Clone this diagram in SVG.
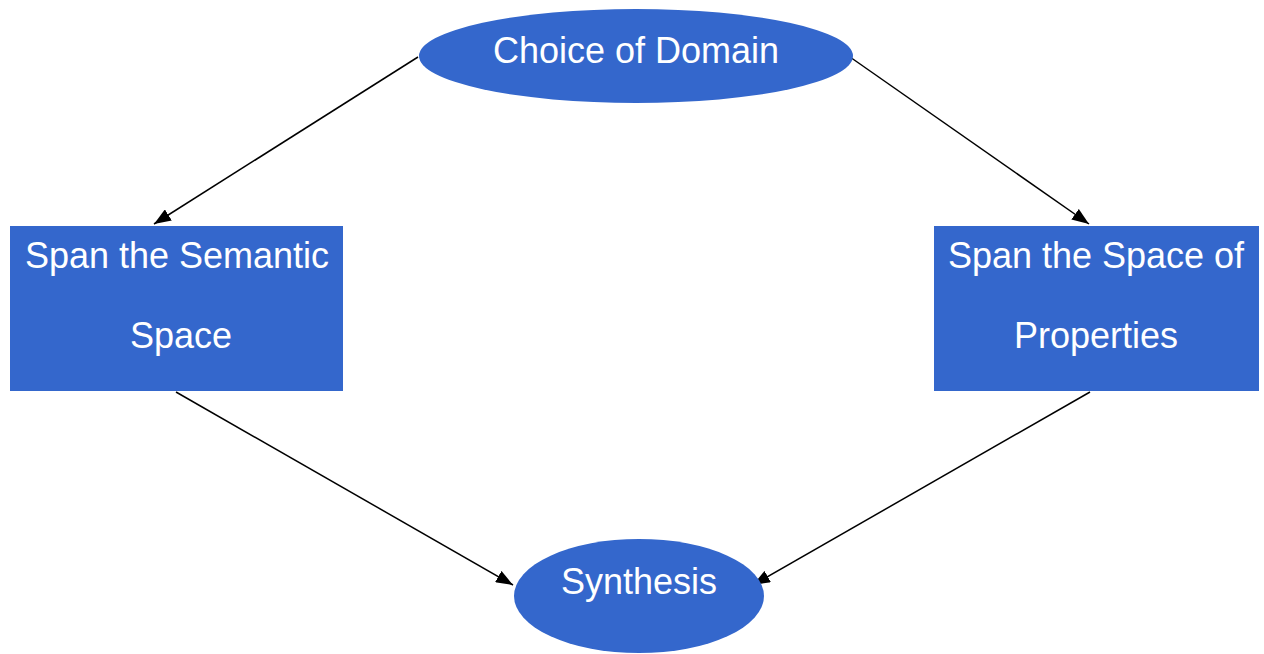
<svg xmlns="http://www.w3.org/2000/svg" width="1264" height="654" viewBox="0 0 1264 654">
<style>
.n{fill:#3467CC;}
.t{fill:#ffffff;font-family:"Liberation Sans",Arial,sans-serif;font-size:36px;text-anchor:middle;}
.c{stroke:#000;stroke-width:1.5;fill:none;marker-end:url(#ah);}
</style>
<defs>
<marker id="ah" viewBox="0 0 10 10" refX="10" refY="5" markerWidth="17" markerHeight="13" markerUnits="userSpaceOnUse" orient="auto" preserveAspectRatio="none">
<path d="M0,0 L10,5 L0,10 z" fill="#000"/>
</marker>
</defs>
<rect width="1264" height="654" fill="#fff"/>
<g id="connectors">
<line class="c" x1="418" y1="57" x2="154" y2="224"/>
<line class="c" x1="850" y1="57" x2="1089" y2="224"/>
<line class="c" x1="176" y1="392" x2="513" y2="585"/>
<line class="c" x1="1090" y1="392" x2="753" y2="585"/>
</g>
<g id="choice">
<ellipse class="n" cx="636" cy="56" rx="217" ry="47"/>
<text class="t" x="636" y="63">Choice of Domain</text>
</g>
<g id="semantic">
<rect class="n" x="10" y="226" width="333" height="165"/>
<text class="t" x="177" y="268">Span the Semantic</text>
<text class="t" x="181" y="348">Space</text>
</g>
<g id="properties">
<rect class="n" x="934" y="226" width="325" height="165"/>
<text class="t" x="1096" y="268">Span the Space of</text>
<text class="t" x="1096" y="348">Properties</text>
</g>
<g id="synthesis">
<ellipse class="n" cx="639" cy="596" rx="125" ry="57"/>
<text class="t" x="639" y="594">Synthesis</text>
</g>
</svg>
